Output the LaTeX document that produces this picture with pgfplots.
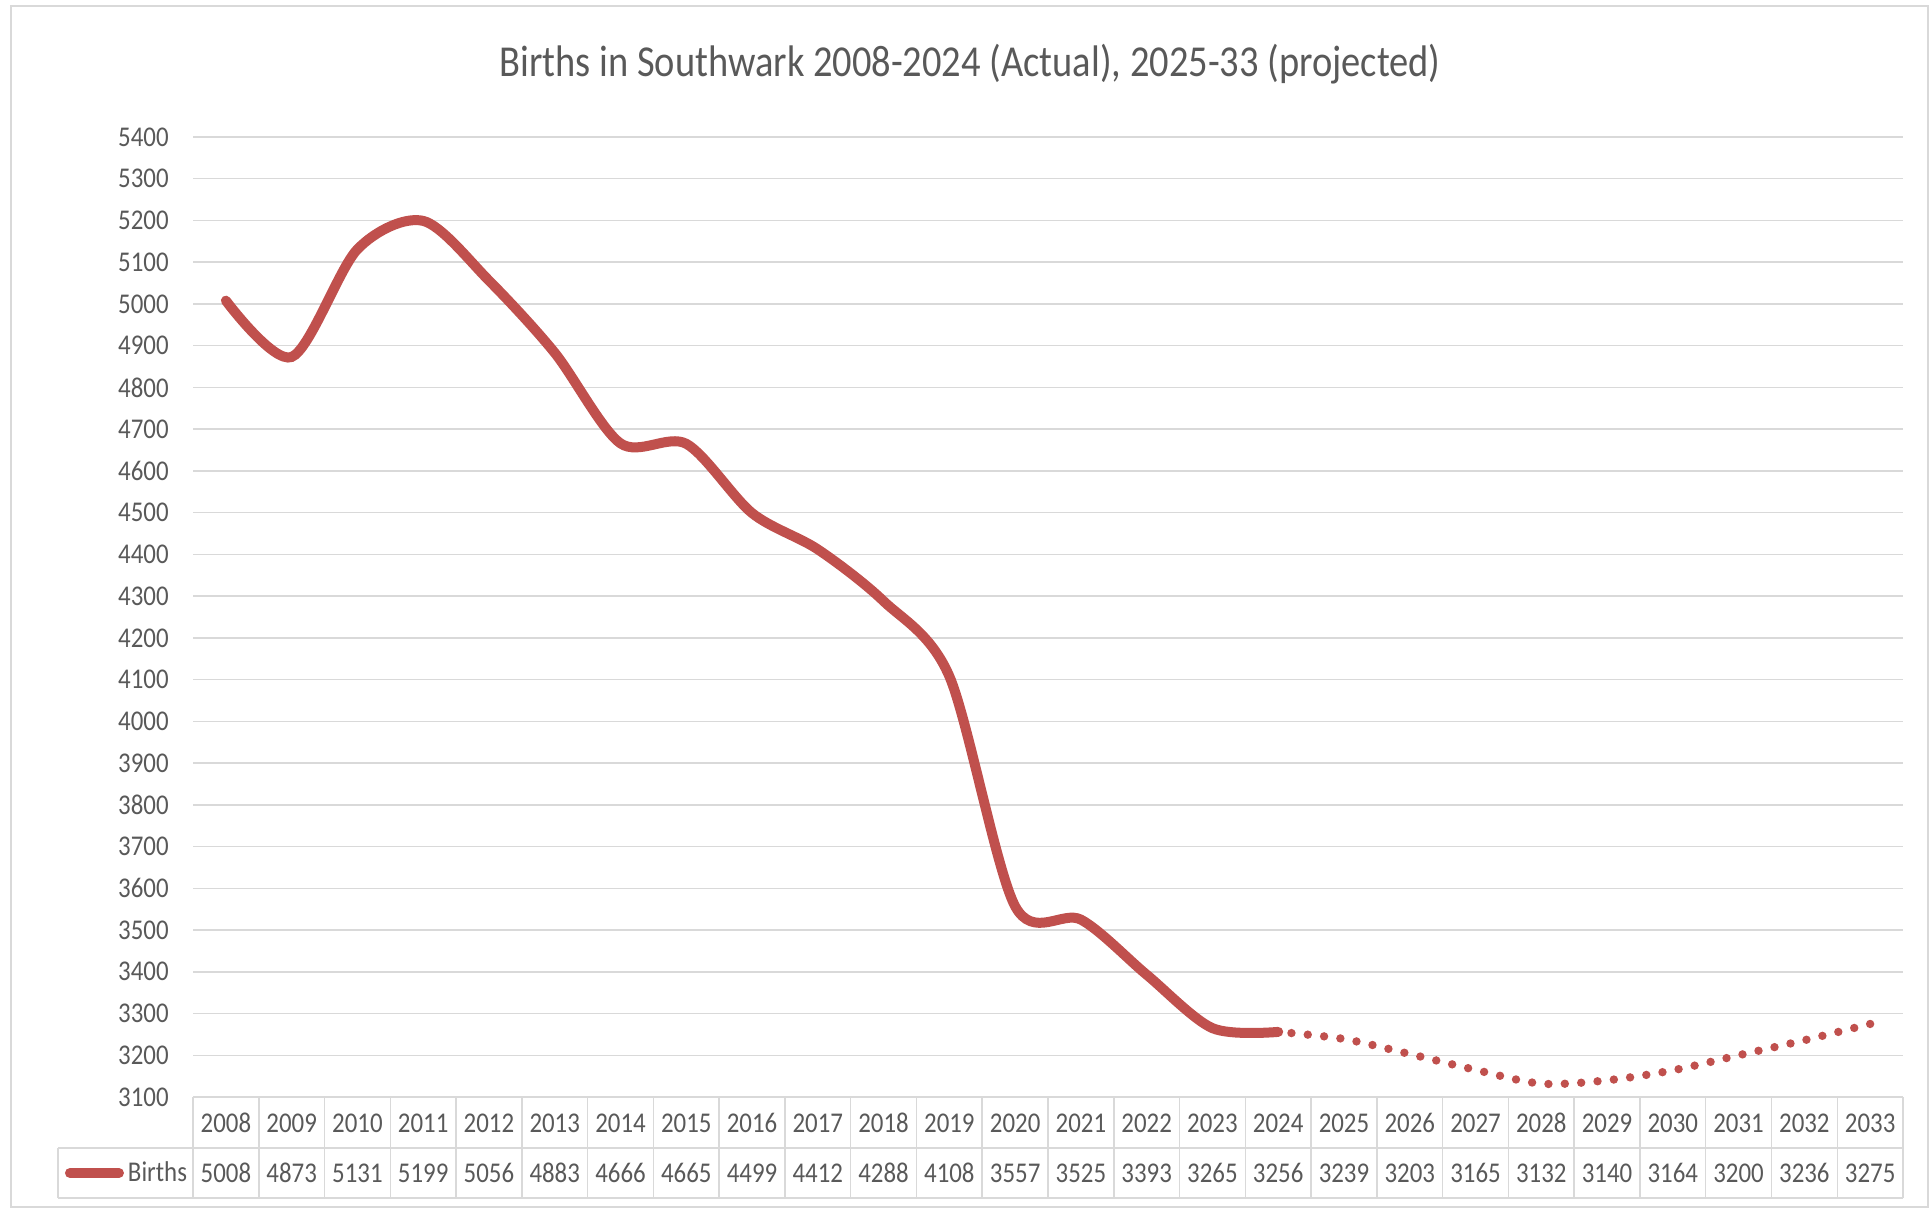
\documentclass[border=0pt]{standalone}
\usepackage{fontspec}
\setmainfont{Carlito}[FakeStretch=0.87]
\usepackage{pgfplots}
\pgfplotsset{compat=1.18}
\usepackage{pgfplotstable}
\definecolor{birthred}{RGB}{192,80,77}
\definecolor{txt}{RGB}{89,89,89}
\definecolor{gridc}{RGB}{217,217,217}

\pgfplotstableread{
x year births
0 2008 5008
1 2009 4873
2 2010 5131
3 2011 5199
4 2012 5056
5 2013 4883
6 2014 4666
7 2015 4665
8 2016 4499
9 2017 4412
10 2018 4288
11 2019 4108
12 2020 3557
13 2021 3525
14 2022 3393
15 2023 3265
16 2024 3256
17 2025 3239
18 2026 3203
19 2027 3165
20 2028 3132
21 2029 3140
22 2030 3164
23 2031 3200
24 2032 3236
25 2033 3275
}\data

% projected part, listed from the end so that the dotted pattern starts on 2033
\pgfplotstableread{
x year births
25 2033 3275
24 2032 3236
23 2031 3200
22 2030 3164
21 2029 3140
20 2028 3132
19 2027 3165
18 2026 3203
17 2025 3239
16 2024 3256
}\proj

\newcommand\tabfont{\fontsize{14.3}{16}\selectfont}

\begin{document}
\begin{tikzpicture}
\useasboundingbox (0,0) rectangle (965.5pt,606pt);
\draw[gridc, line width=1pt] (5.5pt,2.5pt) rectangle (964pt,603pt);
\node[font=\fontsize{22.1}{26}\selectfont, text=txt] at (485pt,574pt) {Births in Southwark 2008-2024 (Actual), 2025-33 (projected)};

\begin{axis}[
  at={(96.5pt,57.5pt)}, anchor=south west,
  width=855pt, height=480pt, scale only axis,
  xmin=-0.5, xmax=25.5, ymin=3100, ymax=5400,
  ytick distance=100,
  ymajorgrids, grid style={gridc, line width=0.75pt},
  axis line style={draw=none},
  major tick length=0pt,
  xtick={0,...,25},
  xticklabels from table={\data}{year},
  xticklabel style={anchor=center, yshift=-13pt, inner sep=0pt, font=\tabfont, text=txt},
  yticklabel style={anchor=east, xshift=-12pt, inner sep=0pt, font=\tabfont, text=txt},
  /pgf/number format/1000 sep={},
  /pgf/number format/assume math mode=true,
  clip=false,
  legend style={at={(-0.0035,-0.0792)}, anchor=east, draw=none, fill=none,
    inner sep=0pt, outer sep=0pt, font=\tabfont, text=txt,
    nodes={inner sep=0pt, outer sep=0pt}},
  legend image code/.code={\draw[#1, line width=5pt, line cap=round, solid] (0pt,0pt) -- (24.5pt,0pt);},
  legend cell align=left,
]
\addplot[birthred, line width=4.2pt, smooth, line cap=round, dash pattern=on 0pt off 8.2pt, forget plot] table[x=x, y=births]{\proj};
\addplot[birthred, line width=5pt, smooth, line cap=round, restrict x to domain=0:16] table[x=x, y=births]{\data};
\addlegendentry{\hspace{2pt}Births}
\addplot[draw=none, mark=none, forget plot, point meta=explicit symbolic,
  nodes near coords, nodes near coords align=center,
  every node near coord/.append style={font=\tabfont, text=txt, inner sep=0pt, anchor=center}]
  table[x=x, y expr=2917.9, meta=births]{\data};
\end{axis}

\foreach \i in {0,...,26} \draw[gridc, line width=0.75pt] (96.5pt+\i*32.8846pt, 57.5pt) -- (96.5pt+\i*32.8846pt, 7pt);
\draw[gridc, line width=0.75pt] (29pt,32pt) -- (951.5pt,32pt);
\draw[gridc, line width=0.75pt] (29pt,7pt) -- (951.5pt,7pt);
\draw[gridc, line width=0.75pt] (29pt,32pt) -- (29pt,7pt);
\end{tikzpicture}
\end{document}
